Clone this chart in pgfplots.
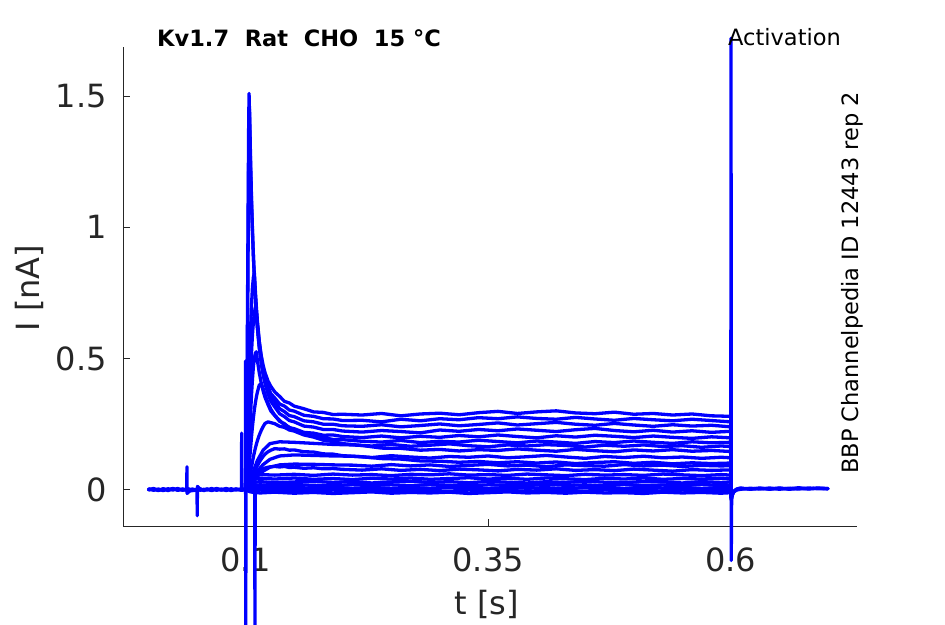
\documentclass[border=0pt]{standalone}
\usepackage{fontspec}
\setmainfont{DejaVu Sans}
\usepackage{pgfplots}
\usepackage{pgfplotstable}
\pgfplotsset{compat=1.18}
\definecolor{axiscol}{HTML}{262626}
\newcommand\tickfont{\fontsize{32}{38}\selectfont}
\newcommand\smallfont{\fontsize{22.5}{27}\selectfont}

% peaking traces (shared time grid)
\pgfplotstableread{
t c8 c9 c10 c11 c12 c13 c14 c15 c16
0.1    0 0 0 0 0 0 0 0 0
0.1005 0.000 0.000 0.001 0.002 0.003 0.005 0.01 0.03 0.05
0.101  0.002 0.002 0.003 0.006 0.010 0.020 0.04 0.15 0.20
0.1015 0.004 0.004 0.007 0.015 0.030 0.050 0.09 0.35 0.45
0.102  0.006 0.007 0.012 0.028 0.055 0.090 0.16 0.60 0.75
0.1025 0.008 0.010 0.019 0.045 0.085 0.140 0.24 0.90 1.05
0.103  0.010 0.014 0.027 0.065 0.120 0.200 0.32 1.18 1.35
0.1035 0.011 0.018 0.036 0.088 0.160 0.260 0.40 1.38 1.51
0.104  0.013 0.022 0.045 0.110 0.200 0.320 0.47 1.45 1.43
0.105  0.019 0.030 0.065 0.155 0.280 0.430 0.60 1.267 1.24
0.106  0.025 0.039 0.085 0.200 0.360 0.520 0.70 1.115 1.10
0.107  0.031 0.048 0.105 0.240 0.420 0.590 0.77 0.991 0.98
0.108  0.038 0.057 0.125 0.275 0.470 0.640 0.81 0.887 0.89
0.109  0.044 0.066 0.142 0.305 0.500 0.675 0.825 0.801 0.81
0.110  0.050 0.075 0.158 0.330 0.520 0.695 0.757 0.730 0.74
0.111  0.055 0.083 0.172 0.352 0.525 0.675 0.698 0.671 0.684
0.112  0.060 0.090 0.185 0.370 0.495 0.621 0.647 0.621 0.637
0.114  0.068 0.104 0.207 0.398 0.446 0.541 0.566 0.544 0.564
0.116  0.074 0.116 0.225 0.403 0.407 0.482 0.505 0.489 0.512
0.118  0.079 0.126 0.240 0.385 0.376 0.437 0.458 0.450 0.474
0.120  0.082 0.135 0.252 0.362 0.351 0.403 0.423 0.420 0.445
0.123  0.085 0.144 0.258 0.330 0.324 0.366 0.388 0.392 0.414
0.126  0.087 0.150 0.255 0.306 0.299 0.336 0.356 0.365 0.393
0.130  0.088 0.156 0.251 0.283 0.282 0.315 0.334 0.349 0.372
0.135  0.086 0.154 0.241 0.264 0.260 0.289 0.308 0.326 0.355
0.140  0.088 0.155 0.237 0.246 0.251 0.278 0.297 0.318 0.336
0.145  0.084 0.150 0.227 0.237 0.236 0.263 0.282 0.303 0.330
0.150  0.085 0.151 0.223 0.225 0.232 0.258 0.278 0.299 0.318
0.160  0.081 0.144 0.208 0.214 0.218 0.242 0.262 0.283 0.308
0.170  0.083 0.143 0.200 0.203 0.215 0.238 0.258 0.279 0.296
0.180  0.079 0.136 0.188 0.198 0.207 0.229 0.249 0.270 0.294
0.190  0.080 0.135 0.183 0.191 0.208 0.229 0.249 0.269 0.286
0.200  0.077 0.129 0.175 0.190 0.202 0.223 0.243 0.263 0.287
0.22   0.074 0.125 0.168 0.184 0.198 0.219 0.241 0.264 0.284
0.24   0.079 0.118 0.158 0.181 0.204 0.225 0.247 0.258 0.290
0.26   0.073 0.116 0.157 0.187 0.197 0.221 0.239 0.268 0.281
0.28   0.077 0.109 0.150 0.179 0.203 0.216 0.244 0.262 0.288
0.30   0.072 0.108 0.153 0.184 0.199 0.227 0.250 0.270 0.291
0.32   0.078 0.104 0.147 0.181 0.206 0.222 0.243 0.266 0.285
0.34   0.075 0.107 0.152 0.188 0.201 0.229 0.248 0.274 0.293
0.36   0.071 0.102 0.149 0.183 0.208 0.224 0.254 0.270 0.298
0.38   0.077 0.106 0.155 0.178 0.202 0.231 0.246 0.277 0.290
0.40   0.074 0.101 0.150 0.185 0.197 0.226 0.251 0.271 0.296
0.42   0.079 0.105 0.146 0.181 0.205 0.221 0.256 0.268 0.300
0.44   0.073 0.099 0.153 0.176 0.200 0.228 0.249 0.275 0.292
0.46   0.076 0.103 0.148 0.183 0.207 0.233 0.245 0.269 0.289
0.48   0.072 0.106 0.144 0.179 0.203 0.225 0.252 0.264 0.295
0.50   0.078 0.100 0.151 0.185 0.198 0.220 0.246 0.271 0.287
0.52   0.074 0.104 0.147 0.180 0.204 0.226 0.241 0.266 0.290
0.54   0.070 0.098 0.152 0.176 0.199 0.219 0.247 0.262 0.284
0.56   0.076 0.102 0.146 0.182 0.195 0.224 0.242 0.268 0.288
0.58   0.073 0.099 0.149 0.178 0.201 0.218 0.245 0.263 0.281
0.60   0.075 0.101 0.145 0.180 0.197 0.222 0.239 0.258 0.279
0.6005 -0.030 -0.030 -0.030 -0.030 -0.030 -0.030 -0.030 -0.030 -0.030
}\peaks

% non-peaking traces
\pgfplotstableread{
t c1 c2 c3 c4 c5 c6 c7
0.1    0 0 0 0 0 0 0
0.1015 -0.004 -0.001 0.002 0.005 0.008 0.012 0.017
0.104  -0.008 -0.003 0.004 0.012 0.020 0.029 0.039
0.108  -0.011 -0.004 0.006 0.016 0.027 0.039 0.053
0.115  -0.013 -0.002 0.008 0.018 0.030 0.043 0.057
0.13   -0.010 -0.005 0.005 0.015 0.026 0.040 0.055
0.15   -0.014 -0.003 0.009 0.019 0.029 0.044 0.058
0.17   -0.011 -0.006 0.004 0.016 0.031 0.039 0.054
0.19   -0.015 -0.002 0.007 0.014 0.027 0.042 0.059
0.21   -0.012 -0.005 0.005 0.019 0.030 0.038 0.055
0.23   -0.009 -0.003 0.008 0.016 0.025 0.043 0.057
0.25   -0.014 -0.006 0.004 0.018 0.029 0.040 0.053
0.27   -0.011 -0.001 0.007 0.015 0.032 0.044 0.058
0.29   -0.013 -0.004 0.005 0.019 0.027 0.039 0.056
0.31   -0.010 -0.006 0.009 0.016 0.030 0.042 0.060
0.33   -0.015 -0.002 0.006 0.014 0.026 0.045 0.055
0.35   -0.012 -0.005 0.004 0.018 0.031 0.040 0.057
0.37   -0.009 -0.003 0.008 0.017 0.028 0.043 0.054
0.39   -0.013 -0.007 0.005 0.015 0.025 0.039 0.059
0.41   -0.011 -0.002 0.007 0.020 0.030 0.044 0.056
0.43   -0.014 -0.004 0.003 0.016 0.027 0.041 0.053
0.45   -0.010 -0.006 0.008 0.018 0.032 0.038 0.058
0.47   -0.013 -0.001 0.006 0.014 0.028 0.043 0.055
0.49   -0.012 -0.005 0.004 0.019 0.026 0.040 0.057
0.51   -0.015 -0.003 0.009 0.016 0.031 0.044 0.054
0.53   -0.010 -0.006 0.005 0.017 0.029 0.039 0.059
0.55   -0.013 -0.002 0.007 0.015 0.025 0.042 0.056
0.57   -0.011 -0.004 0.004 0.019 0.030 0.040 0.053
0.59   -0.014 -0.005 0.008 0.016 0.027 0.043 0.057
0.60   -0.012 -0.003 0.006 0.018 0.029 0.041 0.055
0.6005 -0.030 -0.030 -0.030 -0.030 -0.030 -0.030 -0.030
}\flat

% further slowly rising traces
\pgfplotstableread{
t e1 e2 e3
0.1    0 0 0
0.104  0.020 0.030 0.012
0.108  0.045 0.070 0.030
0.112  0.070 0.110 0.050
0.118  0.095 0.150 0.070
0.125  0.115 0.175 0.085
0.135  0.128 0.182 0.094
0.15   0.132 0.180 0.097
0.17   0.130 0.176 0.096
0.19   0.128 0.172 0.094
0.21   0.127 0.170 0.093
0.23   0.122 0.166 0.089
0.25   0.129 0.172 0.095
0.27   0.124 0.165 0.090
0.29   0.120 0.169 0.094
0.31   0.126 0.174 0.088
0.33   0.123 0.167 0.092
0.35   0.128 0.163 0.096
0.37   0.121 0.170 0.090
0.39   0.125 0.166 0.093
0.41   0.130 0.171 0.087
0.43   0.124 0.168 0.094
0.45   0.119 0.162 0.091
0.47   0.126 0.169 0.089
0.49   0.122 0.165 0.095
0.51   0.127 0.170 0.090
0.53   0.121 0.164 0.093
0.55   0.124 0.167 0.088
0.57   0.119 0.161 0.092
0.59   0.123 0.166 0.090
0.60   0.121 0.164 0.091
0.6005 -0.030 -0.030 -0.030
}\extra

% pre-step baseline (with artefacts)
\pgfplotstableread{
t p1 p2 p3
0      -0.002  0.003  0.000
0.005   0.004 -0.003  0.002
0.01   -0.003  0.002 -0.004
0.015   0.002 -0.004  0.003
0.02   -0.004  0.003 -0.001
0.025   0.003 -0.002  0.004
0.03   -0.002  0.004 -0.003
0.035   0.001 -0.003  0.002
0.0393 -0.003  0.002 -0.002
0.0395  0.087 -0.002  0.003
0.0397 -0.015  0.003 -0.001
0.042  -0.006 -0.003  0.002
0.045  -0.004  0.002 -0.003
0.0499 -0.002 -0.003  0.002
0.0501 -0.100  0.002 -0.002
0.0503  0.012 -0.002  0.003
0.053   0.002  0.003 -0.003
0.057  -0.003 -0.004  0.001
0.06    0.002  0.002 -0.002
0.065  -0.004 -0.003  0.004
0.07    0.003  0.004 -0.003
0.075  -0.002 -0.002  0.002
0.08    0.004  0.003 -0.004
0.085  -0.003 -0.004  0.003
0.09    0.002  0.002 -0.002
0.0957 -0.002 -0.003  0.003
0.0959  0.001  0.215 -0.002
0.0961 -0.003 -0.002  0.002
0.0997  0.002  0.003 -0.003
0.0999 -0.002  0.001  0.490
0.1001  0.001 -0.002 -0.620
0.1003  0.000  0.000  0.000
}\pre

% post-step baseline (with artefacts)
\pgfplotstableread{
t q1 q2 q3
0.6     0.280 -0.030 -0.020
0.6002  1.720 -0.035 -0.030
0.6004 -0.270 -0.040 -0.035
0.6008 -0.040 -0.030 -0.030
0.6015 -0.022 -0.020 -0.018
0.603  -0.008 -0.009 -0.006
0.606   0.001 -0.002  0.002
0.61    0.004  0.001  0.006
0.62    0.002  0.005  0.001
0.63    0.006  0.002  0.004
0.64    0.001  0.006  0.002
0.65    0.005  0.001  0.006
0.66    0.003  0.005  0.001
0.67    0.007  0.002  0.004
0.68    0.002  0.006  0.003
0.69    0.005  0.003  0.006
0.70    0.004  0.004  0.002
}\post

\begin{document}
\begin{tikzpicture}[x=1pt,y=1pt]
\path[use as bounding box] (0,0) rectangle (945,624);
\begin{axis}[
  at={(123pt,98pt)}, anchor=south west,
  scale only axis, width=734pt, height=479pt,
  xmin=-0.0264, xmax=0.730, ymin=-0.139, ymax=1.687,
  axis x line=bottom, axis y line=left,
  axis line style={-, draw=axiscol, line width=0.9pt},
  xtick={0.1,0.35,0.6}, xticklabels={0.1,0.35,0.6},
  ytick={0,0.5,1,1.5}, yticklabels={0,0.5,1,1.5},
  minor tick num=0,
  tick align=inside, major tick length=7pt,
  tick style={draw=axiscol, line width=0.9pt},
  ticklabel style={font=\tickfont, text=axiscol, inner sep=0pt},
  xticklabel style={anchor=north, yshift=-22pt},
  yticklabel style={anchor=east, xshift=-16pt},
  clip=false,
  cycle list={{blue, mark=none}},
  every axis plot post/.append style={draw=blue, mark=none, line width=3.3pt, line join=round, line cap=round},
]
\pgfplotsinvokeforeach{c1,c2,c3,c4,c5,c6,c7}{\addplot table[x=t,y=#1]{\flat};}
\pgfplotsinvokeforeach{e1,e2,e3}{\addplot table[x=t,y=#1]{\extra};}
\pgfplotsinvokeforeach{c8,c9,c10,c11,c12,c13,c14,c15,c16}{\addplot table[x=t,y=#1]{\peaks};}
\pgfplotsinvokeforeach{p1,p2,p3}{\addplot table[x=t,y=#1]{\pre};}
\pgfplotsinvokeforeach{q1,q2,q3}{\addplot table[x=t,y=#1]{\post};}
\addplot[line width=2.2pt] coordinates {(0.1094,0.006) (0.1096,-0.62) (0.1098,0.006)};
\end{axis}
\node[anchor=base west, font=\bfseries\smallfont, inner sep=0pt] at (157,577) {Kv1.7\ \ Rat\ \ CHO\ \ 15 °C};
\node[anchor=base west, font=\smallfont, inner sep=0pt] at (728,578) {Activation};
\node[anchor=base west, rotate=90, font=\smallfont, inner sep=0pt] at (858,150) {BBP Channelpedia ID 12443 rep 2};
\node[anchor=base, font=\tickfont, text=axiscol, inner sep=0pt] at (487,10) {t [s]};
\node[anchor=base, rotate=90, font=\tickfont, text=axiscol, inner sep=0pt] at (39,336) {I [nA]};
\end{tikzpicture}
\end{document}
